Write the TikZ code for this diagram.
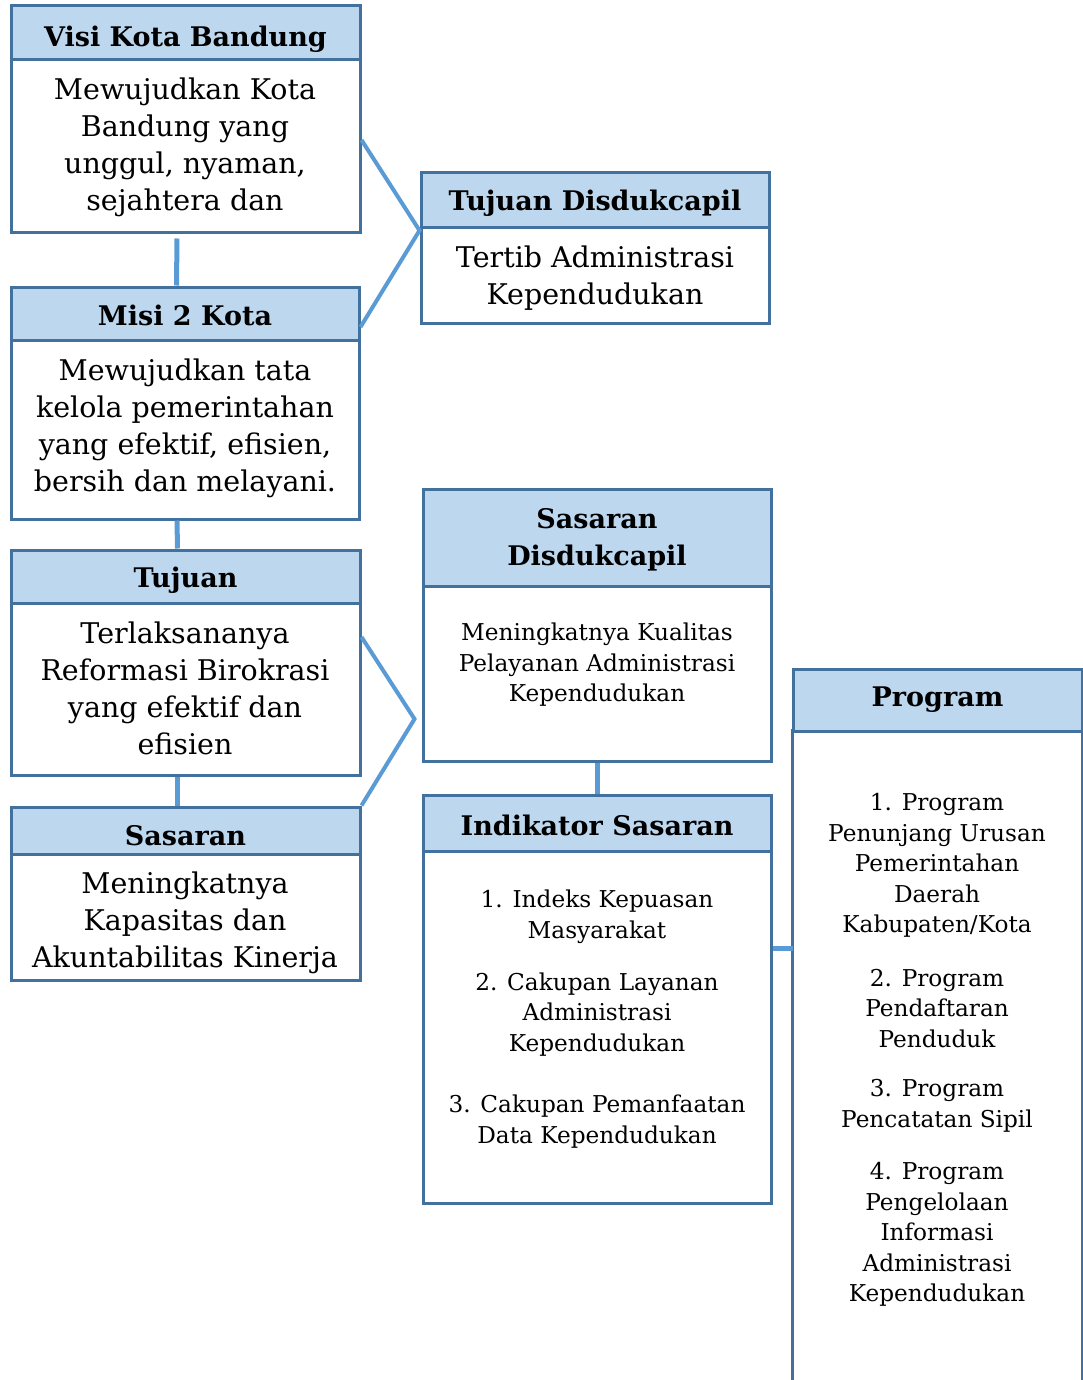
\documentclass[tikz,border=0pt]{standalone}
\usepackage{fontspec}
\setmainfont{DejaVu Serif}
\definecolor{bord}{HTML}{41719C}
\definecolor{hfill}{HTML}{BDD7EE}
\definecolor{conn}{HTML}{5B9BD5}
\begin{document}
\begin{tikzpicture}[x=1pt,y=-1pt,
  hdr/.style={draw=bord,fill=hfill,line width=3pt,inner sep=0pt},
  hdrtxt/.style={inner sep=0pt,align=center,font=\fontsize{27}{37}\selectfont\bfseries},
  bodybox/.style={draw=bord,fill=white,line width=3pt,inner sep=0pt},
  bigtxt/.style={inner sep=0pt,align=center,font=\fontsize{28.5}{37}\selectfont},
  smalltxt/.style={inner sep=0pt,align=center,font=\fontsize{23.2}{30.5}\selectfont},
  connline/.style={draw=conn,line width=5pt}]
\useasboundingbox (0,0) rectangle (1083,1380);
\clip (0,0) rectangle (1083,1380);

% ---------- left column ----------
\node[bodybox,minimum width=349pt,minimum height=173pt] (visiB) at (185.5,146.5) {};
\node[hdr,minimum width=349pt,minimum height=54pt] (visiH) at (185.5,33) {};
\node[hdrtxt] (visiL) at (185.5,39) {Visi Kota Bandung};
\node[bigtxt] (visiT) at (185,147.5) {Mewujudkan Kota\\Bandung yang\\unggul, nyaman,\\sejahtera dan};

\node[bodybox,minimum width=348pt,minimum height=179pt] (misiB) at (185,429.5) {};
\node[hdr,minimum width=348pt,minimum height=53pt] (misiH) at (185,313.5) {};
\node[hdrtxt] (misiL) at (185,315.5) {Misi 2 Kota};
\node[bigtxt] (misiT) at (185,428.5) {Mewujudkan tata\\kelola pemerintahan\\yang efektif, efisien,\\bersih dan melayani.};

\node[bodybox,minimum width=349pt,minimum height=172pt] (tujB) at (185.5,689) {};
\node[hdr,minimum width=349pt,minimum height=53pt] (tujH) at (185.5,576.5) {};
\node[hdrtxt] (tujL) at (185.5,580.5) {Tujuan};
\node[bigtxt] (tujT) at (185,688) {Terlaksananya\\Reformasi Birokrasi\\yang efektif dan\\efisien};

\node[bodybox,minimum width=349pt,minimum height=126pt] (sasB) at (185.5,917) {};
\node[hdr,minimum width=349pt,minimum height=47pt] (sasH) at (185.5,830.5) {};
\node[hdrtxt] (sasL) at (185.5,835.5) {Sasaran};
\node[bigtxt] (sasT) at (185,923) {Meningkatnya\\Kapasitas dan\\Akuntabilitas Kinerja};

% ---------- middle column ----------
\node[bodybox,minimum width=348pt,minimum height=95pt] (tdB) at (595,275.5) {};
\node[hdr,minimum width=348pt,minimum height=55pt] (tdH) at (595,200.5) {};
\node[hdrtxt] (tdL) at (595,203.5) {Tujuan Disdukcapil};
\node[bigtxt] (tdT) at (595,278.5) {Tertib Administrasi\\Kependudukan};

\node[bodybox,minimum width=348pt,minimum height=175pt] (sdB) at (597,673.5) {};
\node[hdr,minimum width=348pt,minimum height=97pt] (sdH) at (597,537.5) {};
\node[hdrtxt] (sdL) at (597,539.5) {Sasaran\\Disdukcapil};
\node[smalltxt] (sdT) at (597,665) {Meningkatnya Kualitas\\Pelayanan Administrasi\\Kependudukan};

\node[bodybox,minimum width=348pt,minimum height=352pt] (indB) at (597,1027) {};
\node[hdr,minimum width=348pt,minimum height=56pt] (indH) at (597,823) {};
\node[hdrtxt] (indL) at (597,825) {Indikator Sasaran};
\node[smalltxt] (ind1) at (597,917) {1. Indeks Kepuasan\\Masyarakat};
\node[smalltxt] (ind2) at (597,1014.5) {2. Cakupan Layanan\\Administrasi\\Kependudukan};
\node[smalltxt] (ind3) at (597,1121.5) {3. Cakupan Pemanfaatan\\Data Kependudukan};

% ---------- right column ----------
\node[fill=white,inner sep=0pt,minimum width=289pt,minimum height=649pt] (progB) at (937.5,1055.5) {};
\draw[draw=bord,line width=3pt] (progB.south west) -- (progB.north west) -- (progB.north east) -- (progB.south east);
\node[hdr,minimum width=289pt,minimum height=62pt] (progH) at (937.5,700) {};
\node[hdrtxt] (progL) at (937.5,700) {Program};
\node[smalltxt] (prog1) at (937,865.5) {1. Program\\Penunjang Urusan\\Pemerintahan\\Daerah\\Kabupaten/Kota};
\node[smalltxt] (prog2) at (937,1008.5) {2. Program\\Pendaftaran\\Penduduk};
\node[smalltxt] (prog3) at (937,1106) {3. Program\\Pencatatan Sipil};
\node[smalltxt] (prog4) at (937,1234.5) {4. Program\\Pengelolaan\\Informasi\\Administrasi\\Kependudukan};

% ---------- connectors ----------
\draw[connline] ([xshift=-8.5pt,yshift=-4pt]visiB.south) -- ([xshift=-8.5pt]misiH.north);
\draw[connline] ([xshift=-8pt]misiB.south) -- ([xshift=-8pt]tujH.north);
\draw[connline] ([xshift=-8.5pt]tujB.south) -- ([xshift=-8.5pt]sasH.north);

\coordinate (m1) at ([yshift=-4pt]tdB.north west);
\draw[connline,line width=4pt] ([yshift=6.5pt]visiB.east) -- (m1) -- ([yshift=-13.5pt]misiH.east);

\coordinate (m2) at ([xshift=-7pt,yshift=-45.5pt]sdB.west);
\draw[connline,line width=4pt] ([yshift=52pt]tujB.east) -- (m2) -- (sasH.north east);

\draw[connline] (sdB.south) -- (indH.north);
\draw[connline] ([yshift=79pt]indB.east) -- ([yshift=79pt]indB.east -| progB.west);
\end{tikzpicture}
\end{document}
